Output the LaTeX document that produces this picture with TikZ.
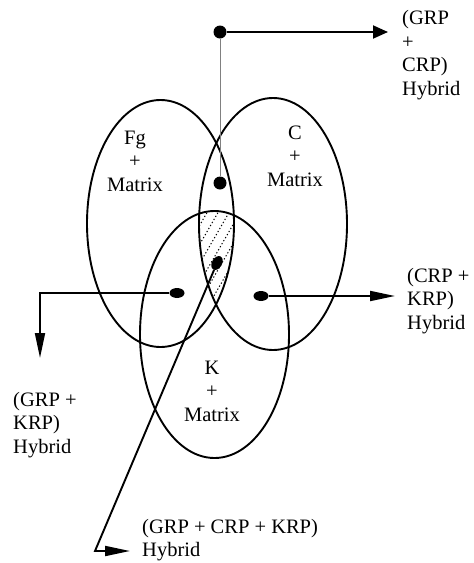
\documentclass[tikz,border=0pt]{standalone}
\usepackage{fontspec}
\setmainfont{Liberation Serif}
\usepackage{tikz}
\usetikzlibrary{arrows.meta,shapes.geometric}
\tikzset{
  ring/.style={ellipse,draw,line width=1.9pt,inner sep=0pt,outer sep=0pt},
  dot/.style={circle,fill,inner sep=0pt,minimum size=13pt},
  blob/.style={ellipse,fill,inner sep=0pt,minimum width=15pt,minimum height=10pt},
  lbl/.style={align=center,inner sep=0pt,font=\fontsize{20.5}{23.5}\selectfont},
  hyb/.style={align=left,anchor=west,inner sep=0pt,font=\fontsize{20.5}{23.5}\selectfont},
  arrow/.style={line width=1.9pt,-{Triangle[length=15pt,width=13pt]}},
  longarrow/.style={line width=1.9pt,-{Triangle[length=25pt,width=10pt]}},
  hatch/.style={line width=1pt,dash pattern=on 1.3pt off 2.2pt},
}

\begin{document}
\begin{tikzpicture}[x=1pt,y=-1pt]
    \useasboundingbox (0,0) rectangle (474,563);

    % hatched part shared by all three
    \begin{scope}
      \clip (160.5,223.5) ellipse [x radius=73.5pt,y radius=123.5pt];
      \clip (273,224) ellipse [x radius=74pt,y radius=126pt];
      \clip (214.5,334.5) ellipse [x radius=74.5pt,y radius=123.5pt];
      \foreach \i in {-88,-77,...,66}
        \draw[hatch] (200+\i,320) -- ++(60:160pt);
    \end{scope}

    \node[ring,minimum width=147pt,minimum height=247pt] (fg) at (160.5,223.5) {};
    \node[ring,minimum width=148pt,minimum height=252pt] (c)  at (273,224) {};
    \node[ring,minimum width=149pt,minimum height=247pt] (k)  at (214.5,334.5) {};

    \node[lbl] (fglbl) at (135,161) {Fg\\+\\Matrix};
    \node[lbl] (clbl)  at (295,156) {C\\+\\Matrix};
    \node[lbl] (klbl)  at (212,391) {K\\+\\Matrix};

    \node[dot] (top) at (220,32) {};
    \node[dot] (mid) at (220,183) {};
    \node[blob] (lft) at (177,293) {};
    \node[blob] (rgt) at (261,296) {};
    \node[blob,rotate=60] (ctr) at (217,263) {};

    \coordinate (toptip)  at (388,32);
    \coordinate (lcorner) at (40,293);
    \coordinate (ltip)    at (40,358);
    \coordinate (rtip)    at (395,296);
    \coordinate (bcorner) at (95,551);
    \coordinate (btip)    at (130,551);

    \draw[gray,line width=0.9pt] (top) -- (mid);
    \draw[arrow] (top) -- (toptip);
    \draw[longarrow] (lft) -- (lcorner) -- (ltip);
    \draw[longarrow] (rgt) -- (rtip);
    \draw[longarrow] (ctr) -- (bcorner) -- (btip);

    % hybrids
    \node[hyb] (gc)  at (402,55)  {(GRP\\+\\CRP)\\Hybrid};
    \node[hyb] (ck)  at (407,301) {(CRP +\\KRP)\\Hybrid};
    \node[hyb] (gk)  at (13,425)  {(GRP +\\KRP)\\Hybrid};
    \node[hyb] (gck) at (142,540) {(GRP + CRP + KRP)\\Hybrid};

\end{tikzpicture}
\end{document}
